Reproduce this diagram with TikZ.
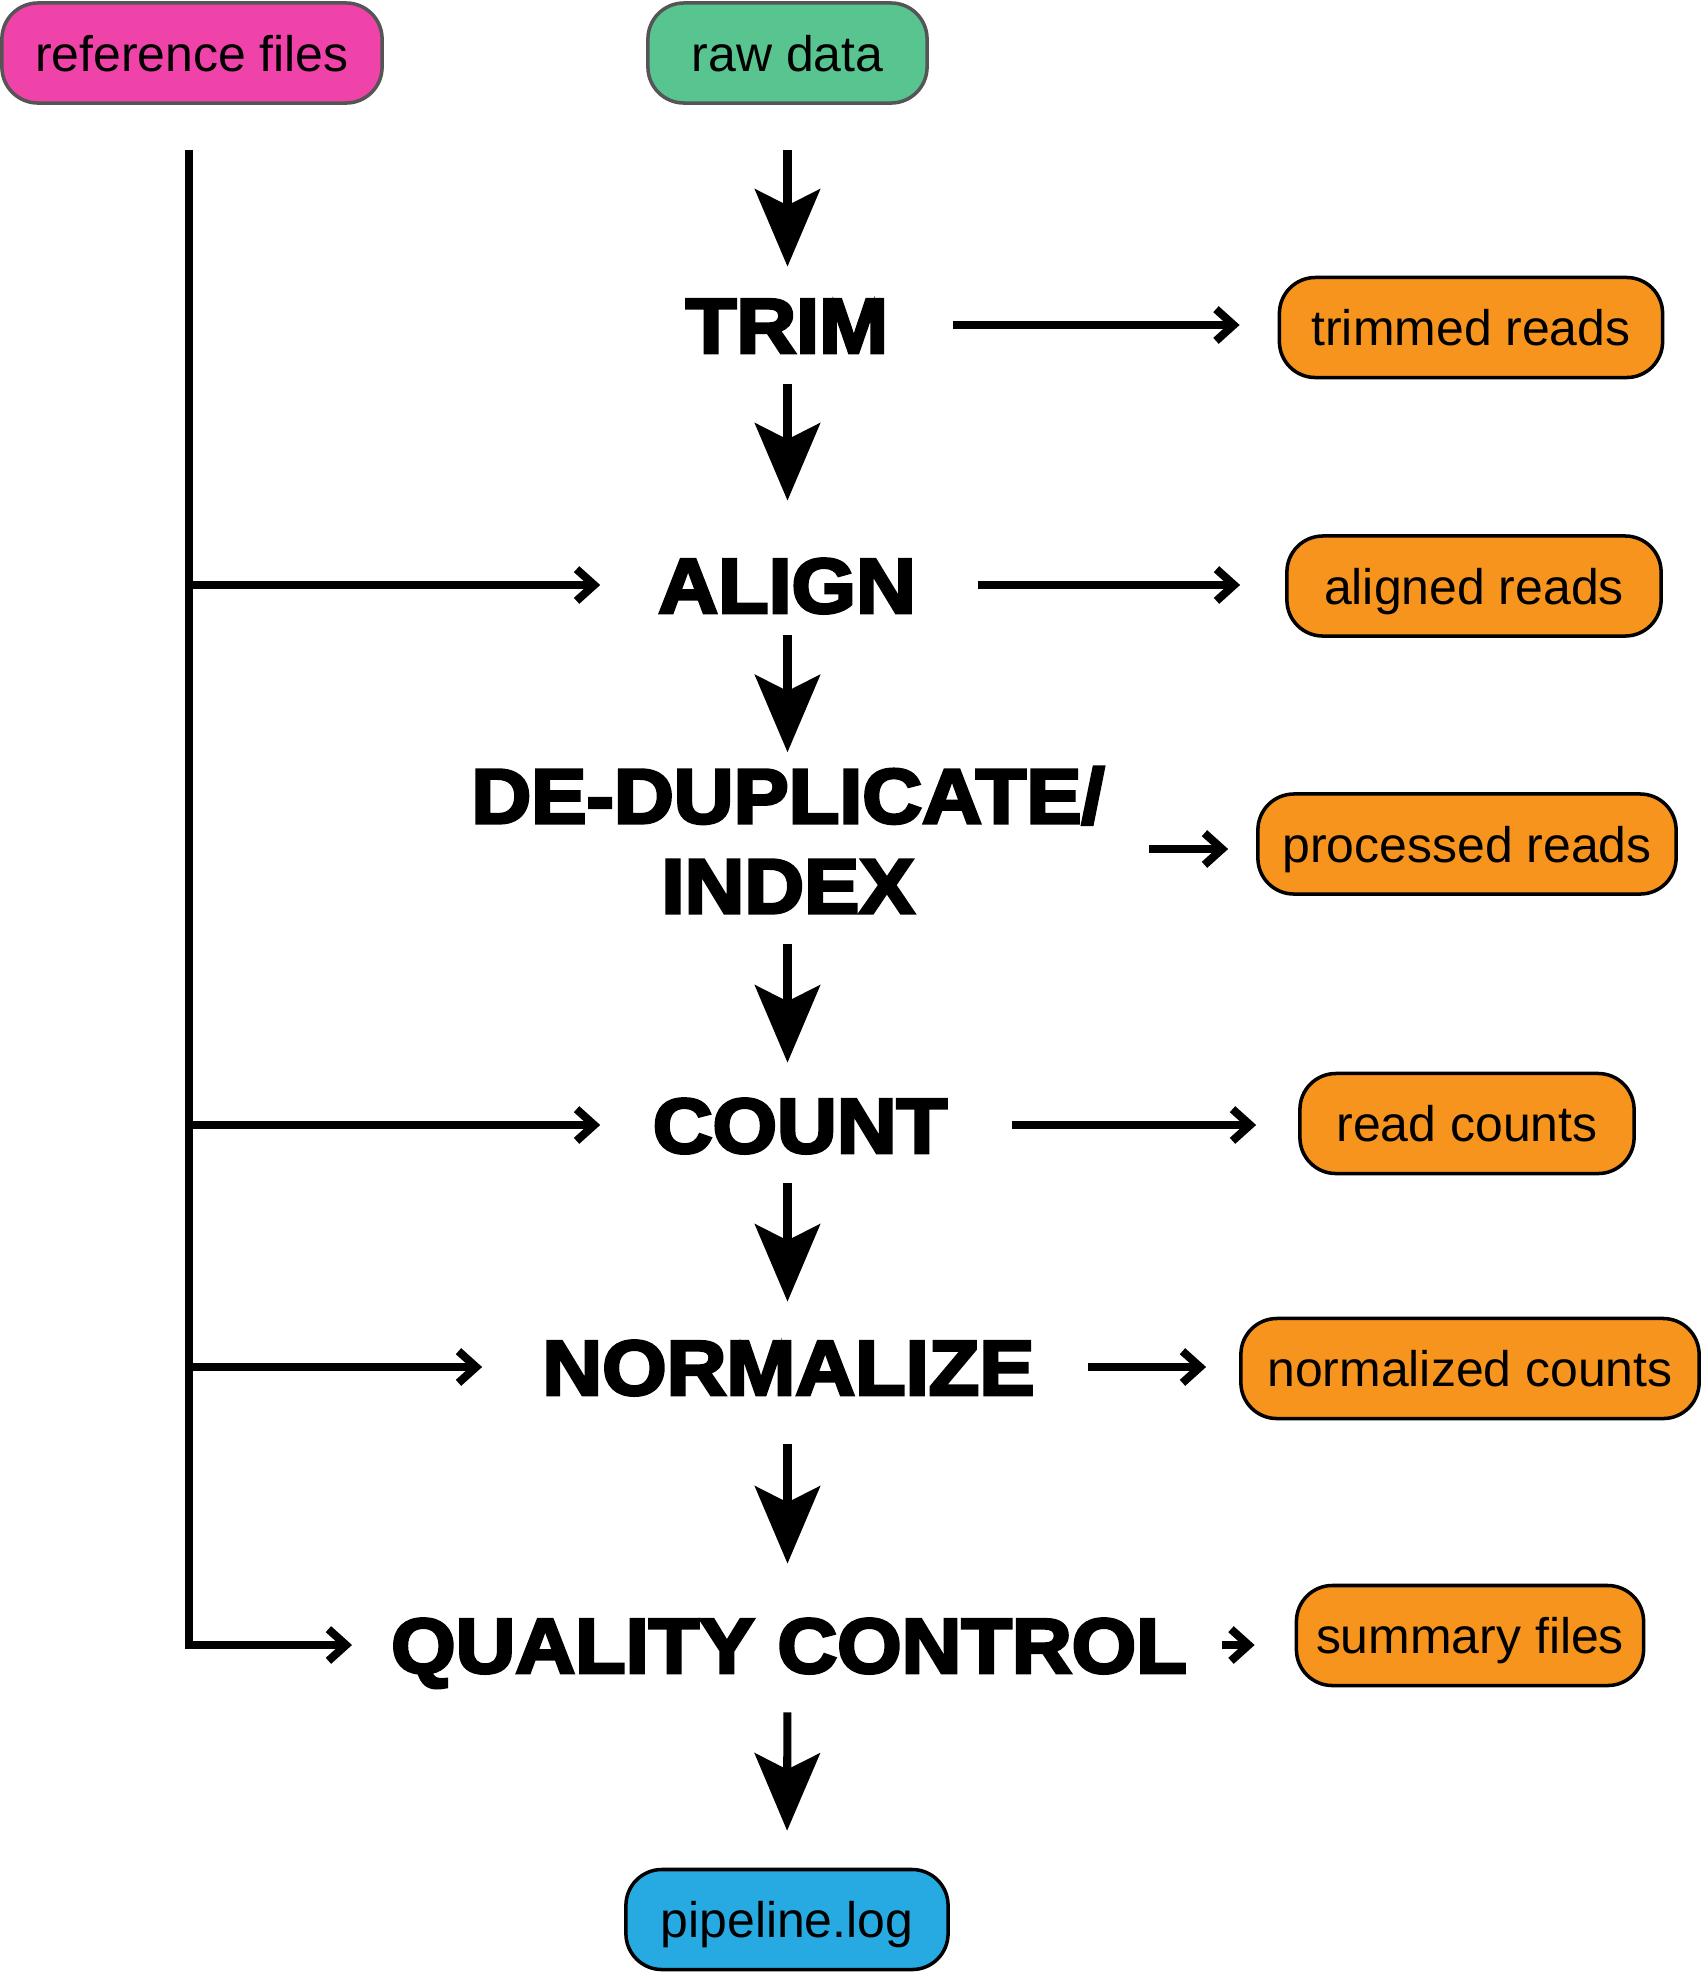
\documentclass[tikz,border=0pt]{standalone}
\usepackage{fontspec}
\setmainfont{Liberation Sans}
\newfontfamily\boxfont{Liberation Sans}
\newfontfamily\headfont{Liberation Sans Bold}[FakeBold=4,FakeStretch=1.07]
\usetikzlibrary{arrows.meta,calc}
\definecolor{pinkc}{HTML}{EF43AA}
\definecolor{greenc}{HTML}{58C490}
\definecolor{orangec}{HTML}{F7941D}
\definecolor{bluec}{HTML}{27AAE1}
\definecolor{grayb}{HTML}{555555}
\tikzset{
  filebox/.style={rectangle, rounded corners=0.36cm, minimum height=1cm, inner sep=0pt,
    font=\boxfont\fontsize{14.2pt}{16pt}\selectfont, text height=10.3pt, text depth=0pt,
    line width=1pt, draw=black},
  head/.style={inner sep=0pt, font=\headfont\fontsize{22pt}{25.6pt}\selectfont,
    text height=15.75pt, text depth=0pt},
  mainarrow/.style={line width=2.3pt, -{Stealth[length=22pt,width=18.5pt,inset=4.6pt]}},
  sidearrow/.style={line width=2.3pt, -{Straight Barb[length=5pt,width=9pt]}},
}
\begin{document}
\begin{tikzpicture}[x=0.01cm,y=-0.01cm]
\useasboundingbox (0,0) rectangle (1702,1972);
% source boxes
\node[filebox, draw=grayb, fill=pinkc, minimum width=3.8cm] (ref) at (192,53) {reference files};
\node[filebox, draw=grayb, fill=greenc, minimum width=2.79cm] (raw) at (787.5,53) {raw data};
% headings
\node[head, minimum width=3.30cm] (trim) at (787,325) {TRIM};
\node[head, minimum width=3.72cm] (align) at (787,585) {ALIGN};
\node[inner sep=0pt, font=\headfont\fontsize{22pt}{25.6pt}\selectfont, align=center, minimum width=7.2cm] (dedup) at (788,840) {DE-DUPLICATE/\\INDEX};
\node[head, minimum width=3.98cm] (count) at (800,1125) {COUNT};
\node[head, minimum width=6.11cm] (norm) at (788.5,1367) {NORMALIZE};
\node[head, minimum width=8.72cm] (qc) at (789,1645) {QUALITY CONTROL};
% output boxes
\node[filebox, fill=orangec, minimum width=3.83cm] (trimmed) at (1471,327.5) {trimmed reads};
\node[filebox, fill=orangec, minimum width=3.74cm] (aligned) at (1474,586) {aligned reads};
\node[filebox, fill=orangec, minimum width=4.18cm] (processed) at (1467,844) {processed reads};
\node[filebox, fill=orangec, minimum width=3.34cm] (counts) at (1467,1123.5) {read counts};
\node[filebox, fill=orangec, minimum width=4.58cm] (normalized) at (1470,1368.5) {normalized counts};
\node[filebox, fill=orangec, minimum width=3.47cm] (summary) at (1470,1635.5) {summary files};
\node[filebox, fill=bluec, minimum width=3.22cm] (log) at (787,1919.5) {pipeline.log};
% main vertical arrows
\draw[mainarrow, shorten <=0.45cm, shorten >=0.30cm] (raw.south) -- (trim.north -| raw.south);
\draw[mainarrow, shorten <=0.31cm, shorten >=0.56cm] (trim.south -| raw.south) -- (align.north -| raw.south);
\draw[mainarrow, shorten <=0.22cm, shorten >=0.14cm] (align.south -| raw.south) -- (dedup.north -| raw.south);
\draw[mainarrow, shorten <=0.30cm, shorten >=0.34cm] (dedup.south -| raw.south) -- (count.north -| raw.south);
\draw[mainarrow, shorten <=0.30cm, shorten >=0.37cm] (count.south -| raw.south) -- (norm.north -| raw.south);
\draw[mainarrow, shorten <=0.49cm, shorten >=0.53cm] (norm.south -| raw.south) -- (qc.north -| raw.south);
\draw[mainarrow, shorten <=0.39cm, shorten >=0.37cm] (qc.south -| raw.south) -- (log.north);
% reference trunk and branches
\coordinate (trunk) at ($(ref.south)+(-3,45)$);
\draw[sidearrow] (trunk) |- (qc.west);
\draw[sidearrow] (trunk |- align.west) -- (align.west);
\draw[sidearrow] (trunk |- count.west) -- (count.west);
\draw[sidearrow] (trunk |- norm.west) -- (norm.west);
% right arrows to outputs
\draw[sidearrow, shorten >=0.38cm] (trim.east) -- (trim.east -| trimmed.west);
\draw[sidearrow, shorten <=0.04cm, shorten >=0.45cm] (align.east) -- (align.east -| aligned.west);
\draw[sidearrow, shorten >=0.28cm] ([yshift=-0.09cm]dedup.east) -- ([yshift=-0.09cm]dedup.east -| processed.west);
\draw[sidearrow, shorten <=0.12cm, shorten >=0.42cm] (count.east) -- (count.east -| counts.west);
\draw[sidearrow, shorten <=-0.07cm, shorten >=0.33cm] (norm.east) -- (norm.east -| normalized.west);
\draw[sidearrow, shorten <=-0.04cm, shorten >=0.40cm] (qc.east) -- (qc.east -| summary.west);
\end{tikzpicture}
\end{document}
